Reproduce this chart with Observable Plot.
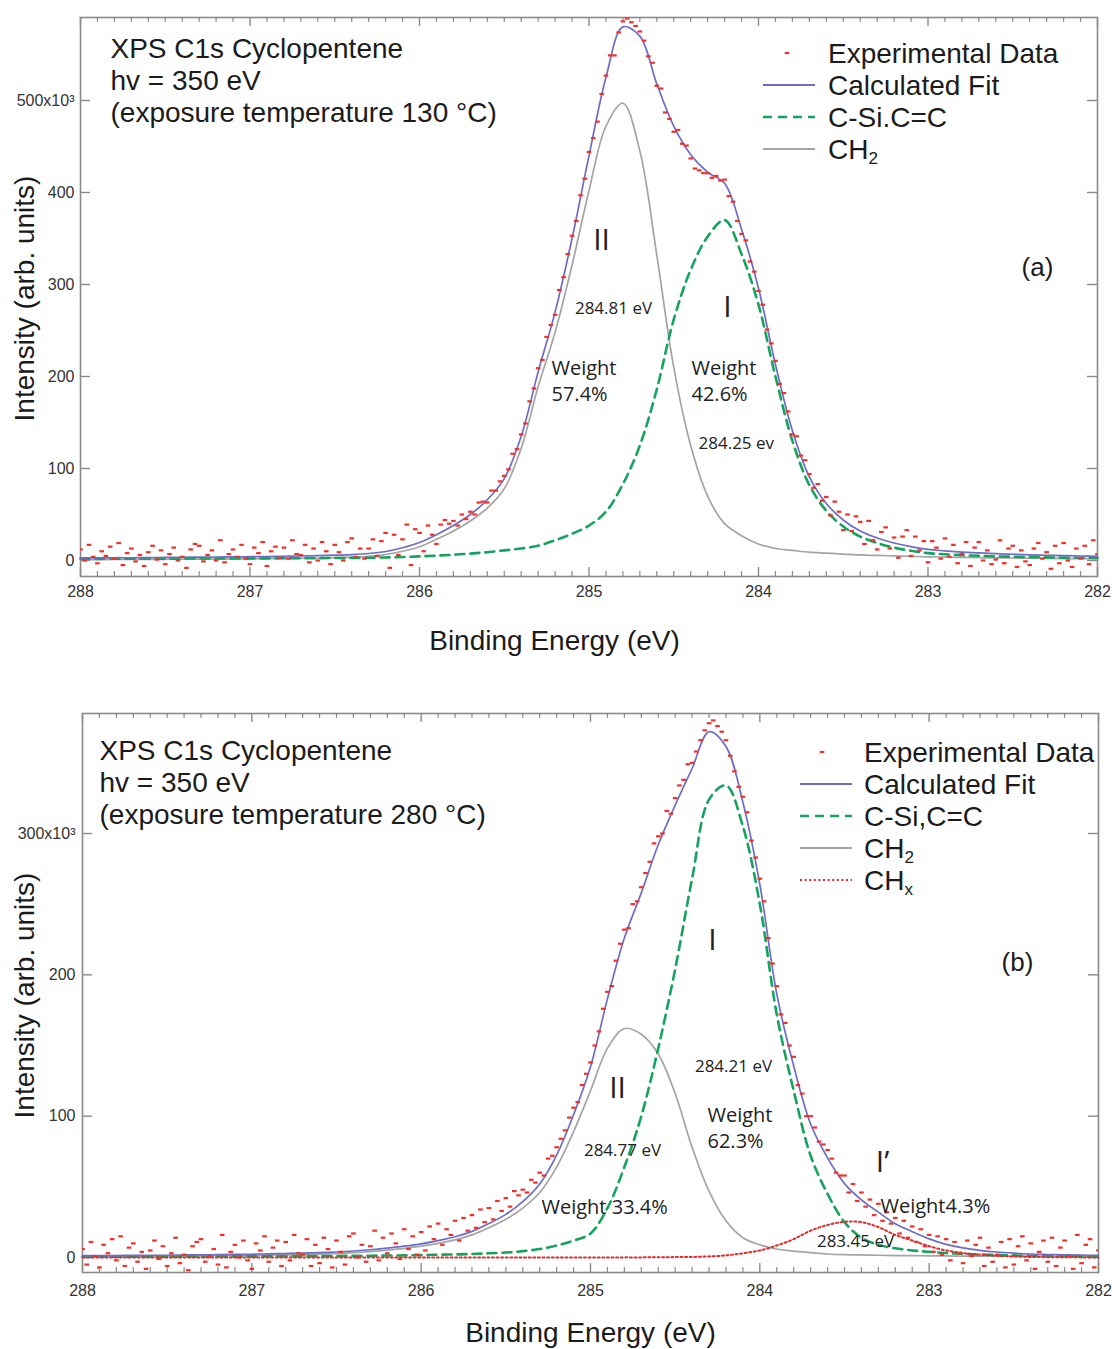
<!DOCTYPE html>
<html>
<head>
<meta charset="utf-8">
<script src="https://cdn.jsdelivr.net/npm/d3@7"></script>
<script src="https://cdn.jsdelivr.net/npm/@observablehq/plot@0.6"></script>
<style>
  html, body { margin: 0; padding: 0; background: #fff; }
  #root { position: relative; width: 1112px; height: 1349px; overflow: hidden; background: #fff; }
  #root > svg { display: block; }
  #legend { position: absolute; left: 0; top: 0; pointer-events: none; }
</style>
</head>
<body>
<div id="root"></div>
<script>
// ---------- shared energy grid of the fitted curves (eV) ----------
const energy = [288.0,287.9,287.8,287.7,287.6,287.5,287.4,287.3,287.2,287.1,
  287.0,286.9,286.8,286.7,286.6,286.5,286.4,286.3,286.2,286.1,
  286.0,285.9,285.8,285.7,285.6,285.5,285.4,285.3,285.2,285.1,
  285.0,284.9,284.8,284.7,284.6,284.5,284.4,284.3,284.2,284.1,
  284.0,283.9,283.8,283.7,283.6,283.5,283.4,283.3,283.2,283.1,
  283.0,282.9,282.8,282.7,282.6,282.5,282.4,282.3,282.2,282.1,
  282.0];

// ---------- panel (a): 130 °C, intensities in 10^3 ----------
const fitA = [2.8,2.8,3.0,3.0,3.2,3.3,3.5,3.6,3.8,3.9,
  4.1,4.3,4.6,4.9,5.3,5.8,6.4,7.6,9.8,13.8,
  19.5,28,38,50,66,89,135,205,270,350,
  440,525,580,570,518,472,441,422,410,360,
  296,213,141,91,62,44,32,24.5,19,15,
  12,10.5,9.2,8.2,7.4,6.8,6.2,5.7,5.2,4.9,
  4.6];
const ch2A = [1.0,1.0,1.1,1.1,1.2,1.3,1.4,1.5,1.6,1.7,
  1.8,2.0,2.2,2.4,2.7,3.1,3.6,4.6,6.5,10,
  15,23,32,43,57,78,122,189,248,321,
  402,472,497,445,332,210,125,70,40,27,
  18,13,11,9,8,7,6,5.5,5,4.5,
  4,3.7,3.4,3.1,2.9,2.7,2.5,2.3,2.1,2.0,
  1.9];
const csiA = [1.8,1.8,1.9,1.9,2.0,2.0,2.1,2.1,2.2,2.2,
  2.3,2.3,2.4,2.5,2.6,2.7,2.8,3.0,3.3,3.8,
  4.5,5.3,6.3,7.5,9,11,13,16,22,29,
  38,53,83,125,186,262,316,352,370,333,
  278,200,130,82,54,37,26,19,14,10.5,
  8,6.8,5.8,5.1,4.5,4.1,3.7,3.4,3.1,2.9,
  2.7];
// experimental points, 0.025 eV apart from 288 eV down to 282 eV
const expA = [
  12,0,17,4, -3,10,5,15, 2,19,-5,8, 13,-1,6,-6, 9,16,1,11,
  -4,7,14,0, 4,-8,12,18, 16,-1,6,11, 0,22,-2,7, 12,4,17,2,
  -4,14,8,20, -6,10,15,3, 14,2,22,7, 6,17,-2,13, 0,20,10,-4,
  17,9,0,20, 24,4,13,2, 13,23,5,21, 30,-8,28,6, 23,39,-5,34,
  30,10,38,28, 18,39,44,40, 43,38,50,45, 53,50,63,64, 63,76,76,86,
  92,99,116,121, 137,149,173,187, 209,218,243,256, 267,294,308,333, 353,369,397,415,
  444,459,477,507, 527,549,549,574, 586,589,585,581, 575,565,548,541, 516,513,487,480,
  466,468,453,451, 437,426,424,421, 421,416,418,413, 414,396,390,369, 355,348,325,314,
  293,278,251,236, 217,192,182,162, 137,135,114,109, 94,79,83,65, 69,49,64,53,
  33,50,32,48, 42,18,43,22, 12,31,36,13, 25,3,26,33, 5,26,11,21,
  -2,21,14,2, 24,4,17,-3, 7,20,-6,14, 20,0,11,-4, 1,22,-3,13,
  16,-7,11,-1, -5,13,19,2, 9,-9,16,-3, 19,0,-7,13, 2,16,-4,22,
  7];

// ---------- panel (b): 280 °C, intensities in 10^3 ----------
const fitB = [1.3,1.3,1.4,1.5,1.6,1.6,1.8,1.9,2.0,2.2,
  2.3,2.6,2.8,3.1,3.4,3.9,4.6,5.5,6.6,8.0,
  9.7,12,14.7,18.5,24,30.5,39.5,52,72.5,101,
  135,183,226,258,292,320,346,372,361.5,322,
  264,186.5,135.5,94.5,70.5,52.3,40.8,32.1,23.9,18.3,
  13.2,9.3,6.8,5.1,3.9,3.1,2.5,2.15,1.85,1.7,
  1.45];
const ch2B = [0.8,0.8,0.9,0.9,1.0,1.0,1.1,1.2,1.3,1.4,
  1.5,1.7,1.9,2.1,2.4,2.8,3.4,4.2,5.2,6.5,
  8,10,12.5,16,21,27,35,46,64,89,
  118,148,162,158,144,116,78,47,26,14,
  9,6,4.5,3.5,2.5,2,1.8,1.6,1.4,1.3,
  1.2,1.1,1.0,1.0,0.9,0.9,0.8,0.8,0.7,0.7,
  0.6];
const csiB = [0.5,0.5,0.5,0.6,0.6,0.6,0.7,0.7,0.7,0.8,
  0.8,0.9,0.9,1.0,1.0,1.1,1.2,1.3,1.4,1.5,
  1.7,2.0,2.2,2.5,3.0,3.5,4.5,6,8.5,12,
  17,35,64,100,148,204,268,324,334,305,
  250,172,118,72,45,25,14,9,6.5,5,
  4,3.2,2.6,2.1,1.8,1.5,1.3,1.1,1.0,0.9,
  0.8];
const chxB = [0,0,0,0,0,0,0,0,0,0,
  0,0,0,0,0,0,0,0,0,0,
  0,0,0,0,0,0,0,0,0,0,
  0,0.05,0.1,0.1,0.2,0.3,0.4,0.8,1.5,3,
  5,8.5,13,19,23,25.3,25,21.5,16,12,
  8,5,3.2,2,1.2,0.7,0.4,0.25,0.15,0.1,
  0.05];
const expB = [
  6,-5,11,1, -7,9,3,13, -2,15,-6,7, 10,-3,4,-8, 5,12,-1,8,
  -6,3,14,-4, 2,-9,8,11, 13,-3,1,6, -5,16,-7,4, 9,0,12,-2,
  -8,10,5,15, -3,7,12,-6, 11,-2,16,3, 2,13,-6,9, -4,14,6,-7,
  12,4,-5,15, 17,0,9,-3, 8,19,-2,14, 3,17,10,-1, 20,6,15,2,
  18,5,22,13, 24,9,20,16, 26,12,28,19, 30,21,34,25, 35,27,40,33,
  42,36,47,44, 48,46,55,53, 60,58,70,72, 78,84,90,99, 106,110,122,130,
  138,150,160,176, 188,192,210,222, 232,233,250,252, 262,272,280,293, 298,300,316,314,
  325,334,338,349, 350,358,366,373, 378,380,376,372, 366,355,344,333, 326,315,295,283,
  268,252,226,208, 192,172,166,150, 142,122,116,100, 100,92,82,80, 76,70,60,58,
  58,46,52,40, 46,36,41,30, 38,26,32,24, 28,17,26,14, 22,11,20,8,
  16,4,15,2, 13,-2,11,3, -4,12,1,9, 14,-6,7,-3, 2,11,-7,13,
  -5,8,15,-2, 10,-8,4,12, -3,14,-6,7, 12,1,-8,16, -4,9,13,-7,
  5];

// ---------- axis ticks ----------
const xMajor = [288, 287, 286, 285, 284, 283, 282];
const xMinor = d3.range(2821, 2880).filter(i => i % 10 !== 0).map(i => i / 10);
const yTicksA = [0, 100, 200, 300, 400, 500];
const yTicksB = [0, 100, 200, 300];
const expStart = 288, expStep = 0.025;

// ---------- tables built from the arrays ----------
const curvesA = energy.map((e, i) => ({e, fit: fitA[i], ch2: ch2A[i], csi: csiA[i]}));
const curvesB = energy.map((e, i) => ({e, fit: fitB[i], ch2: ch2B[i], csi: csiB[i], chx: chxB[i]}));
const toPoints = arr => arr.map((v, i) => ({e: +(expStart - i * expStep).toFixed(3), v}));
const pointsA = toPoints(expA);
const pointsB = toPoints(expB);

// ---------- styling ----------
const W = 1112;
const SANS = "'Liberation Sans', Arial, Helvetica, sans-serif";
const CAL = "'Open Sans', 'Noto Sans', sans-serif";
const C = {
  frame: "#8a8a8a", fit: "#6d6dc6", csi: "#15a35e", ch2: "#a4a4a4",
  chx: "#e42a2a", exp: "#f0302c", text: "#1b1b1b", tick: "#333"
};
const dashSymbol = {
  draw(ctx) { ctx.moveTo(-2.3, -1.1); ctx.lineTo(2.3, -1.1); ctx.lineTo(2.3, 1.1); ctx.lineTo(-2.3, 1.1); ctx.closePath(); }
};

function panel(cfg) {
  const {top, height, mt, mb, ml, mr, yDomain, yTicks, yTop, curves, points, hasChx,
         padX, padY, notes, xLabelX, xLabelY, yLabelY} = cfg;
  const fw = W - ml - mr, fh = height - mt - mb;
  const T = (s, x, y, o = {}) => Plot.text([s], {
    frameAnchor: "top-left", dx: x - ml, dy: y - top - mt, text: d => d,
    lineAnchor: "middle", fill: C.text, ...o
  });
  const curve = "catmull-rom";
  const marks = [
    // inward ticks
    Plot.tickX(xMinor, {x: d => d, insetTop: fh - 5, stroke: C.frame, strokeWidth: 1.2}),
    Plot.tickX(xMinor, {x: d => d, insetBottom: fh - 5, stroke: C.frame, strokeWidth: 1.2}),
    Plot.tickX(xMajor, {x: d => d, insetTop: fh - 9, stroke: C.frame, strokeWidth: 1.4}),
    Plot.tickX(xMajor, {x: d => d, insetBottom: fh - 9, stroke: C.frame, strokeWidth: 1.4}),
    Plot.tickY(yTicks, {y: d => d, insetRight: fw - 10, stroke: C.frame, strokeWidth: 1.4}),
    Plot.tickY(yTicks, {y: d => d, insetLeft: fw - 10, stroke: C.frame, strokeWidth: 1.4}),
    Plot.frame({stroke: C.frame, strokeWidth: 1.6}),
    // fitted components
    Plot.line(curves, {x: "e", y: "ch2", stroke: C.ch2, strokeWidth: 1.7, curve}),
    Plot.line(curves, {x: "e", y: "csi", stroke: C.csi, strokeWidth: 2.6, strokeDasharray: "9,6", curve}),
  ];
  if (hasChx) marks.push(Plot.line(curves, {x: "e", y: "chx", stroke: C.chx, strokeWidth: 2, strokeDasharray: "2,2.6", curve}));
  marks.push(
    Plot.line(curves, {x: "e", y: "fit", stroke: C.fit, strokeWidth: 1.7, curve}),
    Plot.dot(points, {x: "e", y: "v", symbol: dashSymbol, r: 2, fill: C.exp, stroke: "none", clip: true}),
    // axis titles
    T("Binding Energy (eV)", xLabelX, xLabelY, {fontSize: 28, fontFamily: SANS, textAnchor: "middle"}),
    T("Intensity (arb. units)", 25, yLabelY, {fontSize: 28, fontFamily: SANS, textAnchor: "middle", rotate: -90}),
    ...notes.map(n => T(n.s, n.x, n.y, n.o))
  );
  return Plot.plot({
    width: W, height,
    marginTop: mt, marginBottom: mb, marginLeft: ml, marginRight: mr,
    style: {fontFamily: SANS, fontSize: "16px", color: C.tick, background: "white"},
    x: {type: "linear", domain: [288, 282], ticks: xMajor, tickSize: 0, tickPadding: padX,
        tickFormat: d => String(d), label: null},
    y: {type: "linear", domain: yDomain, ticks: yTicks, tickSize: 0, tickPadding: padY,
        tickFormat: d => d === yTop ? d + "x10³" : String(d), label: null},
    marks
  });
}

const big = {fontSize: 28, fontFamily: SANS, textAnchor: "start"};
const roman = {fontSize: 30, fontFamily: CAL, textAnchor: "middle", fill: "#222"};
const small = {fontSize: 17, fontFamily: CAL, textAnchor: "middle", fill: "#222"};
const smallL = {fontSize: 17, fontFamily: CAL, textAnchor: "start", fill: "#222"};
const wt = {fontSize: 20, fontFamily: CAL, textAnchor: "start", fill: "#222"};

const root = document.getElementById("root");

root.appendChild(panel({
  top: 0, height: 680, mt: 17, mb: 104, ml: 80, mr: 15,
  yDomain: [-17.4, 590.2], yTicks: yTicksA, yTop: 500,
  curves: curvesA, points: pointsA, hasChx: false, padX: 9, padY: 6,
  xLabelX: 554, xLabelY: 641, yLabelY: 298,
  notes: [
    {s: "XPS C1s Cyclopentene", x: 110, y: 49, o: big},
    {s: "hv = 350 eV", x: 110, y: 81, o: big},
    {s: "(exposure temperature 130 °C)", x: 110, y: 113, o: big},
    {s: "II", x: 601, y: 240, o: roman},
    {s: "I", x: 727, y: 307, o: roman},
    {s: "284.81 eV", x: 613, y: 308, o: small},
    {s: "Weight", x: 551, y: 368, o: wt},
    {s: "57.4%", x: 551, y: 394, o: wt},
    {s: "Weight", x: 691, y: 368, o: wt},
    {s: "42.6%", x: 691, y: 394, o: wt},
    {s: "284.25 ev", x: 698, y: 443, o: smallL},
    {s: "(a)", x: 1037, y: 267, o: {fontSize: 26, fontFamily: SANS, textAnchor: "middle"}}
  ]
}));

root.appendChild(panel({
  top: 680, height: 669, mt: 33, mb: 77, ml: 82, mr: 14,
  yDomain: [-10.6, 384.9], yTicks: yTicksB, yTop: 300,
  curves: curvesB, points: pointsB, hasChx: true, padX: 12, padY: 7,
  xLabelX: 590, xLabelY: 1333, yLabelY: 995,
  notes: [
    {s: "XPS C1s Cyclopentene", x: 99, y: 751, o: big},
    {s: "hv = 350 eV", x: 99, y: 783, o: big},
    {s: "(exposure temperature 280 °C)", x: 99, y: 815, o: big},
    {s: "I", x: 712, y: 940, o: roman},
    {s: "II", x: 617, y: 1088, o: roman},
    {s: "I’", x: 882, y: 1162, o: roman},
    {s: "284.21 eV", x: 733, y: 1066, o: small},
    {s: "Weight", x: 707, y: 1115, o: wt},
    {s: "62.3%", x: 707, y: 1141, o: wt},
    {s: "284.77 eV", x: 622, y: 1150, o: small},
    {s: "Weight 33.4%", x: 541, y: 1207, o: wt},
    {s: "Weight4.3%", x: 880, y: 1206, o: wt},
    {s: "283.45 eV", x: 855, y: 1241, o: small},
    {s: "(b)", x: 1017, y: 962, o: {fontSize: 26, fontFamily: SANS, textAnchor: "middle"}}
  ]
}));

// ---------- legends (overlay) ----------
const leg = d3.select(root).append("svg").attr("id", "legend").attr("width", W).attr("height", 1349);
function drawLegend(items, {mx, x1, x2, tx, y0, step}) {
  items.forEach((it, i) => {
    const y = y0 + i * step;
    if (it.kind === "dot") {
      leg.append("rect").attr("x", mx - 2.3).attr("y", y - 1.1).attr("width", 4.6).attr("height", 2.2).attr("fill", C.exp);
    } else {
      leg.append("line").attr("x1", x1).attr("x2", x2).attr("y1", y).attr("y2", y)
        .attr("stroke", it.color).attr("stroke-width", it.w).attr("stroke-dasharray", it.dash || null);
    }
    const t = leg.append("text").attr("x", tx).attr("y", y + 9.5).attr("fill", C.text)
      .attr("font-size", 28).attr("font-family", SANS);
    t.append("tspan").text(it.label);
    if (it.sub) t.append("tspan").attr("dy", 5).attr("font-size", 17).text(it.sub);
  });
}
drawLegend([
  {kind: "dot", label: "Experimental Data"},
  {color: C.fit, w: 1.8, label: "Calculated Fit"},
  {color: C.csi, w: 2.6, dash: "9,6", label: "C-Si.C=C"},
  {color: C.ch2, w: 1.8, label: "CH", sub: "2"}
], {mx: 787, x1: 763, x2: 815, tx: 828, y0: 53, step: 32});
drawLegend([
  {kind: "dot", label: "Experimental Data"},
  {color: C.fit, w: 1.8, label: "Calculated Fit"},
  {color: C.csi, w: 2.6, dash: "9,6", label: "C-Si,C=C"},
  {color: C.ch2, w: 1.8, label: "CH", sub: "2"},
  {color: C.chx, w: 2, dash: "2,2.6", label: "CH", sub: "x"}
], {mx: 822, x1: 800, x2: 852, tx: 864, y0: 752, step: 32});
</script>
</body>
</html>
